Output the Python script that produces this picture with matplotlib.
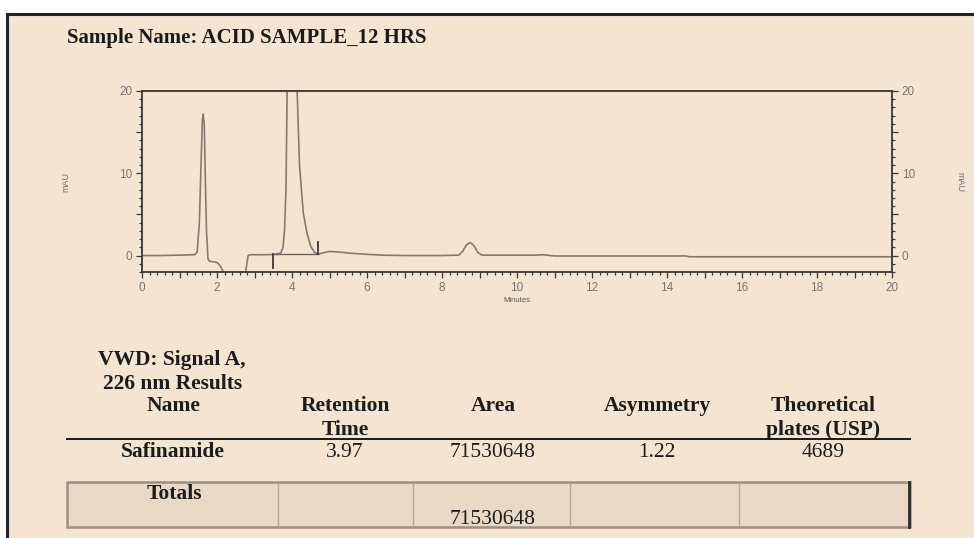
import matplotlib
matplotlib.use('Agg')
import matplotlib.pyplot as plt
from matplotlib.patches import Rectangle
from matplotlib.lines import Line2D
from matplotlib.ticker import MultipleLocator, FuncFormatter

# ===== data =====
rt_min = [0.0, 0.5, 1.0, 1.40, 1.47, 1.53, 1.58, 1.61, 1.63, 1.66, 1.69, 1.72, 1.76,
          1.80, 1.90, 2.00, 2.08, 2.16, 2.20, 2.75, 2.79, 2.83, 2.90, 3.20, 3.50,
          3.70, 3.76, 3.80, 3.84, 3.87, 3.92, 3.97, 4.05, 4.13, 4.20, 4.30, 4.40,
          4.50, 4.60, 4.70, 4.80, 5.00, 5.20, 5.50, 6.00, 6.40, 7.00, 8.00, 8.45,
          8.55, 8.65, 8.75, 8.85, 8.95, 9.06, 9.50, 10.5, 10.7, 11.0, 14.5, 14.6, 20.0]
mau = [0.0, 0.0, 0.05, 0.1, 0.4, 4.0, 12.0, 16.5, 17.2, 16.0, 9.0, 3.0, -0.4,
       -0.7, -0.75, -0.85, -1.2, -1.9, -2.5, -2.5, -1.2, 0.0, 0.1, 0.1, 0.12,
       0.3, 1.0, 3.0, 8.0, 20.0, 45.0, 55.0, 45.0, 21.0, 11.0, 5.2, 2.7,
       1.1, 0.4, 0.15, 0.3, 0.5, 0.45, 0.3, 0.15, 0.05, 0.0, 0.0, 0.05,
       0.5, 1.3, 1.6, 1.2, 0.4, 0.05, 0.05, 0.05, 0.1, -0.05, -0.05, -0.15, -0.15]

# integration marks (start / end of the Safinamide peak)
int_x = [3.50, 4.70]
int_lo = [-1.5, 0.15]
int_hi = [0.15, 1.6]
int_base = 0.15

sample_name = 'Sample Name: ACID SAMPLE_12 HRS'
results_title = ['VWD: Signal A,', '226 nm Results']
head_1 = ['Name', 'Retention', 'Area', 'Asymmetry', 'Theoretical']
head_2 = ['', 'Time', '', '', 'plates (USP)']
row_vals = ['Safinamide', '3.97', '71530648', '1.22', '4689']
totals_label = 'Totals'
totals_area = '71530648'

# ===== layout =====
W, H = 974, 538
BG = '#f5e4d1'
SERIF = ['Liberation Serif', 'DejaVu Serif']
SANS = ['Liberation Sans', 'DejaVu Sans']


def fx(x):
    return x / W


def fy(y):
    return 1 - y / H


fig = plt.figure(figsize=(W / 100, H / 100), dpi=100, facecolor=BG)

# white margins + page frame
fig.add_artist(Rectangle((0, fy(13)), 1, 13 / H, transform=fig.transFigure,
                         facecolor='white', edgecolor='none', zorder=0))
fig.add_artist(Rectangle((0, 0), fx(6), 1, transform=fig.transFigure,
                         facecolor='white', edgecolor='none', zorder=0))
fig.add_artist(Line2D([fx(7), 1], [fy(14), fy(14)], transform=fig.transFigure,
                      color='#222222', lw=2.2))
fig.add_artist(Line2D([fx(7), fx(7)], [fy(14), 0], transform=fig.transFigure,
                      color='#222222', lw=2.2))

fig.text(fx(67), fy(43), sample_name, fontsize=15, fontweight='bold',
         family=SERIF, ha='left', va='baseline', color='#1a1a1a')

# ===== chromatogram =====
ax = fig.add_axes([fx(142), fy(272), fx(892) - fx(142), fy(91) - fy(272)])
ax.set_facecolor('none')
ax.plot(rt_min, mau, color='#857a70', lw=1.2)
ax.plot(int_x, [int_base, int_base], color='#6f655c', lw=1.0)
for x, lo, hi in zip(int_x, int_lo, int_hi):
    ax.plot([x, x], [lo, hi], color='#3d3833', lw=1.3)

ax.set_xlim(0, 20)
ax.set_ylim(-2, 20)
ax.xaxis.set_major_locator(MultipleLocator(1))
ax.xaxis.set_minor_locator(MultipleLocator(0.2))
ax.yaxis.set_major_locator(MultipleLocator(5))
ax.yaxis.set_minor_locator(MultipleLocator(1))
ax.xaxis.set_major_formatter(FuncFormatter(lambda v, p: '%d' % v if int(round(v)) % 2 == 0 else ''))
ax.yaxis.set_major_formatter(FuncFormatter(lambda v, p: '%d' % v if int(round(v)) % 10 == 0 else ''))

for s in ax.spines.values():
    s.set_color('#3a3632')
    s.set_linewidth(1.3)

ax.tick_params(which='both', direction='out', color='#3a3632', width=0.9,
               left=True, right=True, bottom=True, top=False,
               labelleft=True, labelright=True)
ax.tick_params(which='major', length=4.5, labelsize=8.5, labelcolor='#7a7570', pad=2.5)
ax.tick_params(which='minor', length=2.2)
for lab in ax.get_xticklabels() + ax.get_yticklabels():
    lab.set_family(SANS)

fig.text(fx(517), fy(301), 'Minutes', fontsize=5.5, family=SANS, color='#555555',
         ha='center', va='center')
fig.text(fx(66), fy(182), 'mAU', fontsize=6.5, family=SANS, color='#707070',
         rotation=90, ha='center', va='center')
fig.text(fx(960), fy(182), 'mAU', fontsize=6.5, family=SANS, color='#707070',
         rotation=270, ha='center', va='center')

# ===== results table =====
TXT = '#1c1c1c'
fig.text(fx(172), fy(365), results_title[0], fontsize=15.5, fontweight='bold',
         family=SERIF, ha='center', va='baseline', color=TXT)
fig.text(fx(173), fy(389), results_title[1], fontsize=15.5, fontweight='bold',
         family=SERIF, ha='center', va='baseline', color=TXT)

col_x = [173, 345, 493, 657, 823]
for cx, h1, h2, v in zip(col_x, head_1, head_2, row_vals):
    fig.text(fx(cx), fy(411), h1, fontsize=15.5, fontweight='bold', family=SERIF,
             ha='center', va='baseline', color=TXT)
    if h2:
        fig.text(fx(cx), fy(435), h2, fontsize=15.5, fontweight='bold', family=SERIF,
                 ha='center', va='baseline', color=TXT)
    fig.text(fx(cx), fy(457), v, fontsize=15.5,
             fontweight='bold' if cx == col_x[0] else 'normal', family=SERIF,
             ha='center', va='baseline', color=TXT)

fig.add_artist(Line2D([fx(67), fx(910)], [fy(439), fy(439)], transform=fig.transFigure,
                      color='#1a1a1a', lw=1.4))

# totals box
fig.add_artist(Rectangle((fx(67), fy(527)), fx(910) - fx(67), fy(482) - fy(527),
                         transform=fig.transFigure, facecolor='#e9d8c5',
                         edgecolor='#9b9085', lw=1.8, zorder=1))
fig.add_artist(Line2D([fx(909), fx(909)], [fy(482), fy(527)], transform=fig.transFigure,
                      color='#2a2a2a', lw=2.0, zorder=2))
for dx in [278, 413, 570, 739]:
    fig.add_artist(Line2D([fx(dx), fx(dx)], [fy(483), fy(526)], transform=fig.transFigure,
                          color='#b3a79b', lw=1.0, zorder=2))
fig.text(fx(174), fy(499), totals_label, fontsize=15.5, fontweight='bold', family=SERIF,
         ha='center', va='baseline', color=TXT, zorder=3)
fig.text(fx(493), fy(524), totals_area, fontsize=15.5, family=SERIF,
         ha='center', va='baseline', color=TXT, zorder=3)

fig.savefig('out.png', dpi=100, facecolor=BG)
